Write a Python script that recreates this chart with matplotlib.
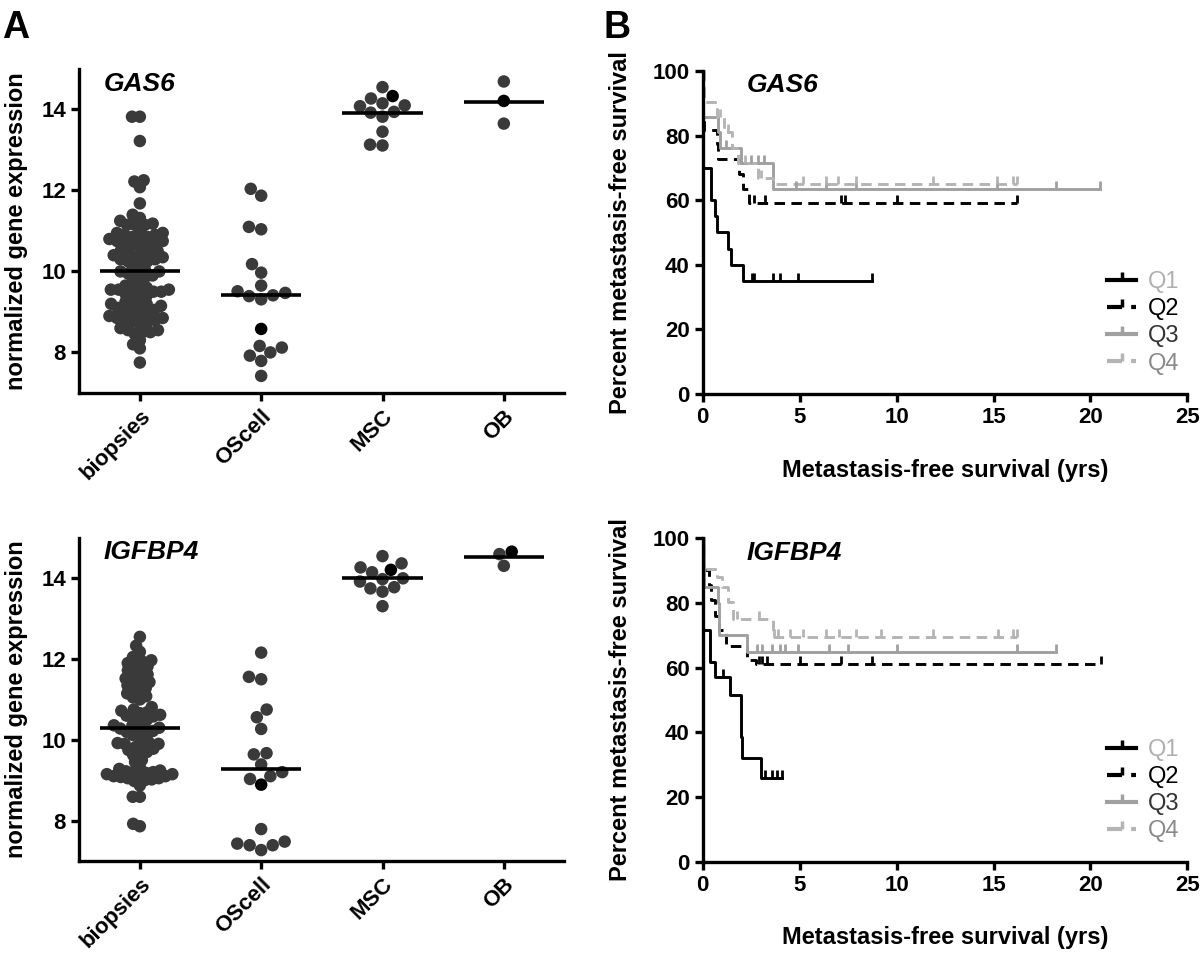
import matplotlib

matplotlib.use("Agg")
import matplotlib.pyplot as plt
import numpy as np
from matplotlib.lines import Line2D
from matplotlib.markers import TICKUP

plt.rcParams["font.family"] = ["Liberation Sans", "DejaVu Sans"]
plt.rcParams["font.weight"] = "bold"
plt.rcParams["axes.labelweight"] = "bold"

# ---------------- panel A: expression per sample group ----------------
groups = ["biopsies", "OScell", "MSC", "OB"]

gas6_biopsies = [
    13.82, 13.82, 13.22, 12.25, 12.22, 12.08, 11.68,
    11.40, 11.25, 11.15, 11.15, 11.15, 11.18, 11.32,
    11.00, 10.95, 10.90, 10.85, 10.80, 10.75, 10.70, 10.65, 10.60,
    10.65, 10.70, 10.75, 10.80, 10.85, 10.90, 10.95,
    10.50, 10.45, 10.40, 10.35, 10.30, 10.25, 10.20,
    10.25, 10.30, 10.35, 10.40, 10.45, 10.50,
    10.05, 10.00, 9.95, 9.90, 9.95, 10.00, 10.10, 9.85, 9.80,
    9.55, 9.55, 9.50, 9.50, 9.55, 9.60, 9.65, 9.70, 9.45, 9.40, 9.35, 9.50, 9.55,
    9.15, 9.10, 9.05, 9.00, 9.05, 9.10, 9.15, 9.20, 9.25, 9.30, 9.20,
    8.90, 8.85, 8.80, 8.75, 8.70, 8.75, 8.80, 8.85, 8.90, 8.95,
    8.60, 8.55, 8.50, 8.45, 8.50, 8.55,
    8.30, 8.20, 8.10, 7.75,
]
gas6_oscell = [11.87, 12.04, 11.10, 11.04, 10.18, 9.97, 9.65, 9.47, 9.39, 9.31,
               9.41, 9.51, 8.58, 8.12, 8.00, 8.16, 7.92, 7.79, 7.42]
gas6_msc = [14.55, 14.27, 14.33, 14.15, 14.08, 14.10, 13.94, 13.82, 13.92, 13.45, 13.11, 13.13]
gas6_ob = [14.69, 14.21, 13.65]
gas6_marked = [None, 8.58, 14.33, 14.21]

igfbp4_biopsies = [
    12.55, 12.33, 12.18, 12.05,
    11.97, 11.90, 11.82, 11.72, 11.62, 11.52, 11.50, 11.58, 11.68, 11.78, 11.88, 11.97,
    11.43, 11.35, 11.25, 11.15, 11.05, 11.00, 11.08, 11.18, 11.28, 11.39,
    10.81, 10.72, 10.62, 10.55, 10.48, 10.50, 10.58, 10.66, 10.75, 10.68, 10.60,
    10.36, 10.30, 10.25, 10.20, 10.12, 10.08, 10.15, 10.22, 10.28, 10.33, 10.36,
    9.92, 9.90, 9.82, 9.75, 9.68, 9.62, 9.70, 9.78, 9.85, 9.90, 9.95,
    9.45, 9.50,
    9.24, 9.22, 9.18, 9.15, 9.10, 9.05, 9.02, 9.00, 9.05, 9.10, 9.15, 9.20, 9.28, 9.32,
    8.98, 9.12, 9.08, 9.20,
    8.87, 8.59, 8.59, 7.86, 7.92,
]
igfbp4_oscell = [12.16, 11.50, 11.56, 10.75, 10.56, 10.27, 9.64, 9.67, 9.39, 9.10,
                 9.03, 9.20, 8.89, 7.79, 7.48, 7.39, 7.27, 7.39, 7.43]
igfbp4_msc = [14.55, 14.27, 14.37, 14.21, 14.15, 14.00, 13.92, 13.98, 13.75, 13.78, 13.67, 13.31]
igfbp4_ob = [14.66, 14.60, 14.31]
igfbp4_marked = [None, 8.89, 14.21, 14.66]

# ---------------- panel B: Kaplan-Meier by quartile ----------------
quartiles = ["Q1", "Q2", "Q3", "Q4"]

gas6_q1_t = [0.02, 0.41, 0.63, 0.72, 1.32, 1.44, 2.06]
gas6_q1_s = [70, 60, 55, 50, 45, 40, 35]
gas6_q1_end = 8.71
gas6_q1_cens = [2.52, 2.66, 3.64, 3.99, 4.93, 8.71]

gas6_q2_t = [0.03, 0.08, 0.72, 0.80, 1.85, 2.10, 2.40]
gas6_q2_s = [86.4, 81.8, 77.3, 72.7, 68.2, 63.6, 59.1]
gas6_q2_end = 16.2
gas6_q2_cens = [2.64, 3.19, 7.15, 7.33, 10.0, 16.2]

gas6_q3_t = [0.03, 0.81, 0.90, 1.95, 3.65]
gas6_q3_s = [85.7, 81.0, 76.2, 71.4, 63.3]
gas6_q3_end = 20.5
gas6_q3_cens = [1.2, 2.5, 2.85, 3.15, 4.8, 6.35, 7.9, 15.2, 18.2, 20.5]

gas6_q4_t = [0.05, 0.75, 1.10, 1.50, 1.80, 2.85, 3.60]
gas6_q4_s = [90.5, 85.7, 81.0, 76.2, 71.4, 67.0, 65.0]
gas6_q4_end = 16.2
gas6_q4_cens = [0.9, 1.3, 2.2, 3.0, 5.17, 6.35, 7.0, 7.9, 11.9, 15.2, 16.0, 16.2]

igfbp4_q1_t = [0.02, 0.39, 0.62, 1.41, 1.95, 2.04, 2.99]
igfbp4_q1_s = [71.6, 61.8, 57.2, 51.5, 38.6, 32.0, 26.0]
igfbp4_q1_end = 4.1
igfbp4_q1_cens = [1.06, 3.2, 3.56, 3.81, 4.07]

igfbp4_q2_t = [0.02, 0.30, 0.43, 0.65, 0.82, 1.18, 2.27, 2.75]
igfbp4_q2_s = [90.3, 85.5, 80.9, 76.0, 71.6, 66.8, 62.4, 61.0]
igfbp4_q2_end = 20.55
igfbp4_q2_cens = [2.9, 3.05, 3.3, 5.0, 7.14, 8.72, 20.55]

igfbp4_q3_t = [0.05, 0.78, 0.83, 2.27]
igfbp4_q3_s = [85.0, 80.0, 70.0, 65.0]
igfbp4_q3_end = 18.2
igfbp4_q3_cens = [2.78, 3.04, 3.56, 3.99, 4.25, 4.93, 6.5, 7.5, 10.0, 16.2, 18.2]

igfbp4_q4_t = [0.05, 0.75, 1.00, 1.32, 1.55, 3.62]
igfbp4_q4_s = [90.6, 88.0, 85.0, 80.3, 75.2, 69.5]
igfbp4_q4_end = 16.2
igfbp4_q4_cens = [1.75, 2.9, 3.68, 3.9, 4.5, 5.16, 6.35, 7.04, 7.92, 9.2, 11.87, 15.23, 16.0, 16.2]

DOT = "#3a3a3a"
KM_STYLE = [
    dict(color="black", ls="-"),
    dict(color="black", ls=(0, (3.6, 2.2))),
    dict(color="#a0a0a0", ls="-"),
    dict(color="#b4b4b4", ls=(0, (3.6, 2.2))),
]
LEGEND_TEXT = ["#b0b0b0", "black", "#333333", "#8a8a8a"]


def swarm_offsets(values, d, sx, sy):
    """Beeswarm x offsets (data units) for dots of spacing d pixels."""
    vals = np.asarray(values, dtype=float)
    out = np.zeros(len(vals))
    placed = []
    for i in np.argsort(vals):
        y = vals[i] * sy
        near = [(px, py) for px, py in placed if abs(py - y) < d]
        cands = [0.0]
        for px, py in near:
            dx = np.sqrt(d * d - (py - y) ** 2)
            cands += [px - dx, px + dx]
        cands.sort(key=lambda c: (round(abs(c), 6), c))
        for c in cands:
            if all((c - px) ** 2 + (y - py) ** 2 >= d * d - 1e-6 for px, py in near):
                break
        placed.append((c, y))
        out[i] = c / sx
    return out


def style_axes(ax):
    for side in ("top", "right"):
        ax.spines[side].set_visible(False)
    for side in ("left", "bottom"):
        ax.spines[side].set_linewidth(2.4)
    ax.tick_params(width=2.4, length=6, labelsize=16, direction="out")


def expression_panel(ax, data, marked, gene):
    ax.set_xlim(-0.5, 3.5)
    ax.set_ylim(7, 15)
    style_axes(ax)
    sx = ax.bbox.width / 4.0
    sy = ax.bbox.height / 8.0
    for i, (vals, mk) in enumerate(zip(data, marked)):
        d = 12.5
        offs = swarm_offsets(vals, d, sx, sy)
        while np.max(np.abs(offs)) * sx > 33:
            d *= 0.95
            offs = swarm_offsets(vals, d, sx, sy)
        vals = np.asarray(vals)
        cols = [DOT] * len(vals)
        if mk is not None:
            cols[int(np.argmin(np.abs(vals - mk)))] = "black"
        ax.scatter(i + offs, vals, s=81, c=cols, edgecolors="none", zorder=2)
        ax.hlines(vals.mean(), i - 0.33, i + 0.33, color="black", lw=2.6, zorder=3)
    ax.set_xticks(range(len(groups)))
    ax.set_xticklabels(groups, rotation=45, ha="right", rotation_mode="anchor")
    ax.set_yticks([8, 10, 12, 14])
    ax.set_ylabel("normalized gene expression", fontsize=17)
    ax.yaxis.set_label_coords(-0.105, 0.5)
    ax.text(0.05, 0.955, gene, transform=ax.transAxes, fontsize=19,
            style="italic", ha="left", va="center")


def km_panel(ax, curves, gene):
    ax.set_xlim(0, 25)
    ax.set_ylim(0, 100)
    style_axes(ax)
    handles = []
    for (t, s, end, cens), st in zip(curves, KM_STYLE):
        x = [0] + list(t) + [end]
        y = [100] + list(s) + [s[-1]]
        ax.step(x, y, where="post", lw=2.1, color=st["color"], ls=st["ls"],
                clip_on=False, zorder=2)
        idx = np.searchsorted(t, cens, side="right") - 1
        cy = [100 if k < 0 else s[k] for k in idx]
        ax.plot(cens, cy, ls="none", marker=TICKUP, ms=6, mew=2.0,
                color=st["color"], clip_on=False, zorder=3)
        handles.append(Line2D([], [], color=st["color"], ls=st["ls"], lw=3,
                              marker=TICKUP, ms=6, mew=2.5, markevery=[1]))
    ax.set_xticks(range(0, 26, 5))
    ax.set_yticks(range(0, 101, 20))
    ax.set_ylabel("Percent metastasis-free survival", fontsize=17)
    ax.yaxis.set_label_coords(-0.145, 0.5)
    ax.set_xlabel("Metastasis-free survival (yrs)", fontsize=17)
    ax.xaxis.set_label_coords(0.5, -0.2)
    ax.text(0.09, 0.955, gene, transform=ax.transAxes, fontsize=19,
            style="italic", ha="left", va="center")
    leg = ax.legend(handles, quartiles, loc="center left", bbox_to_anchor=(0.835, 0.22),
                    frameon=False, handlelength=1.2, handletextpad=0.5,
                    labelspacing=0.22, borderpad=0, borderaxespad=0,
                    prop=dict(size=17, weight="normal"))
    for txt, col in zip(leg.get_texts(), LEGEND_TEXT):
        txt.set_color(col)


fig = plt.figure(figsize=(12, 9.56), dpi=100)
ax_a1 = fig.add_axes([0.066, 0.589, 0.4044, 0.3389])
ax_a2 = fig.add_axes([0.066, 0.0994, 0.4044, 0.3379])
ax_b1 = fig.add_axes([0.5856, 0.5879, 0.4039, 0.3379])
ax_b2 = fig.add_axes([0.5856, 0.0986, 0.4039, 0.3383])

expression_panel(ax_a1, [gas6_biopsies, gas6_oscell, gas6_msc, gas6_ob], gas6_marked, "GAS6")
expression_panel(ax_a2, [igfbp4_biopsies, igfbp4_oscell, igfbp4_msc, igfbp4_ob],
                 igfbp4_marked, "IGFBP4")

km_panel(ax_b1, [
    (gas6_q1_t, gas6_q1_s, gas6_q1_end, gas6_q1_cens),
    (gas6_q2_t, gas6_q2_s, gas6_q2_end, gas6_q2_cens),
    (gas6_q3_t, gas6_q3_s, gas6_q3_end, gas6_q3_cens),
    (gas6_q4_t, gas6_q4_s, gas6_q4_end, gas6_q4_cens),
], "GAS6")
km_panel(ax_b2, [
    (igfbp4_q1_t, igfbp4_q1_s, igfbp4_q1_end, igfbp4_q1_cens),
    (igfbp4_q2_t, igfbp4_q2_s, igfbp4_q2_end, igfbp4_q2_cens),
    (igfbp4_q3_t, igfbp4_q3_s, igfbp4_q3_end, igfbp4_q3_cens),
    (igfbp4_q4_t, igfbp4_q4_s, igfbp4_q4_end, igfbp4_q4_cens),
], "IGFBP4")

fig.text(0.002, 0.99, "A", fontsize=27, va="top", ha="left")
fig.text(0.503, 0.99, "B", fontsize=27, va="top", ha="left")

fig.savefig("out.png", dpi=100)
